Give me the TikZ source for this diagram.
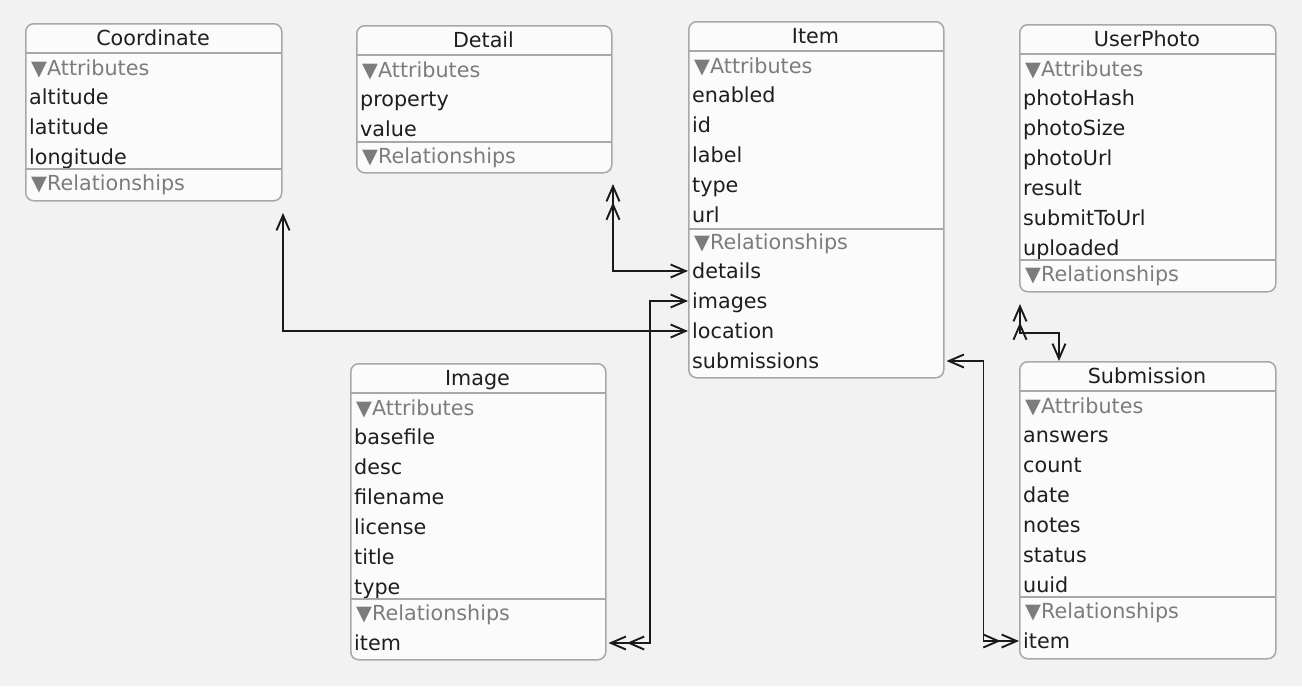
\documentclass[tikz,border=0pt]{standalone}
\usepackage{fontspec}
\setmainfont{DejaVu Sans}
\usetikzlibrary{arrows.meta,calc}
\definecolor{bg}{HTML}{F2F2F2}
\definecolor{boxfill}{HTML}{FBFBFB}
\definecolor{boxline}{HTML}{A8A8A8}
\definecolor{txt}{HTML}{1E1E1E}
\definecolor{hdrc}{HTML}{7C7C7C}
\definecolor{connc}{HTML}{1A1A1A}
\newcommand\efont{\fontsize{20.7}{24}\selectfont}
\newcommand\entbox[6]{%
  \node[ebox, minimum width={#4-#2}, minimum height={#5-#3}] (#1) at (#2,#3) {};
  \node[etitle] (#1-title) at ({(#2+#4)/2},{#3+22}) {#6};
  \draw[esep] (#2,{#3+30}) -- (#4,{#3+30});
}
\begin{document}
\begin{tikzpicture}[x=1pt,y=-1pt,
  ebox/.style={draw=boxline, line width=1.5pt, fill=boxfill, rounded corners=8pt, inner sep=0pt, anchor=north west},
  etitle/.style={font=\efont, text=txt, anchor=base, inner sep=0pt},
  esep/.style={draw=boxline, line width=1.5pt},
  erow/.style={font=\efont, text=txt, anchor=base west, inner xsep=4pt, inner ysep=0pt, text height=16pt, text depth=2pt, yshift=-2pt},
  ehdr/.style={erow, text=hdrc},
  conn/.style={draw=connc, line width=1.9pt},
  onetip/.tip={Straight Barb[length=15pt,width=13pt,line width=1.9pt]},
  manytip/.tip={Straight Barb[length=15pt,width=13pt,line width=1.9pt]Straight Barb[length=15pt,width=13pt,line width=1.9pt]}
]
\fill[bg] (0,0) rectangle (1302,686);
\useasboundingbox (0,0) rectangle (1302,686);

% Coordinate
\entbox{coord}{25}{23}{281}{200}{Coordinate}
\node[ehdr] (coord-attr) at (27,73) {▼Attributes};
\node[erow] (coord-altitude) at (25,102) {altitude};
\node[erow] (coord-latitude) at (25,132) {latitude};
\node[erow] (coord-longitude) at (25,162) {longitude};
\draw[esep] (25,169) -- (281,169);
\node[ehdr] (coord-rel) at (27,188) {▼Relationships};

% Detail
\entbox{detail}{356}{25}{611}{172}{Detail}
\node[ehdr] (detail-attr) at (358,75) {▼Attributes};
\node[erow] (detail-property) at (356,104) {property};
\node[erow] (detail-value) at (356,134) {value};
\draw[esep] (356,142) -- (611,142);
\node[ehdr] (detail-rel) at (358,161) {▼Relationships};

% Item
\entbox{item}{688}{21}{943}{377}{Item}
\node[ehdr] (item-attr) at (690,71) {▼Attributes};
\node[erow] (item-enabled) at (688,100) {enabled};
\node[erow] (item-id) at (688,130) {id};
\node[erow] (item-label) at (688,160) {label};
\node[erow] (item-type) at (688,190) {type};
\node[erow] (item-url) at (688,220) {url};
\draw[esep] (688,229) -- (943,229);
\node[ehdr] (item-rel) at (690,247) {▼Relationships};
\node[erow] (item-details) at (688,276) {details};
\node[erow] (item-images) at (688,306) {images};
\node[erow] (item-location) at (688,336) {location};
\node[erow] (item-submissions) at (688,366) {submissions};

% UserPhoto
\entbox{photo}{1019}{24}{1275}{291}{UserPhoto}
\node[ehdr] (photo-attr) at (1021,74) {▼Attributes};
\node[erow] (photo-hash) at (1019,103) {photoHash};
\node[erow] (photo-size) at (1019,133) {photoSize};
\node[erow] (photo-url) at (1019,163) {photoUrl};
\node[erow] (photo-result) at (1019,193) {result};
\node[erow] (photo-submit) at (1019,223) {submitToUrl};
\node[erow] (photo-uploaded) at (1019,253) {uploaded};
\draw[esep] (1019,260) -- (1275,260);
\node[ehdr] (photo-rel) at (1021,279) {▼Relationships};

% Image
\entbox{image}{350}{363}{605}{659}{Image}
\node[ehdr] (image-attr) at (352,413) {▼Attributes};
\node[erow] (image-basefile) at (350,442) {basefile};
\node[erow] (image-desc) at (350,472) {desc};
\node[erow] (image-filename) at (350,502) {filename};
\node[erow] (image-license) at (350,532) {license};
\node[erow] (image-title) at (350,562) {title};
\node[erow] (image-type) at (350,592) {type};
\draw[esep] (350,599) -- (605,599);
\node[ehdr] (image-rel) at (352,618) {▼Relationships};
\node[erow] (image-item) at (350,648) {item};

% Submission
\entbox{sub}{1019}{361}{1275}{658}{Submission}
\node[ehdr] (sub-attr) at (1021,411) {▼Attributes};
\node[erow] (sub-answers) at (1019,440) {answers};
\node[erow] (sub-count) at (1019,470) {count};
\node[erow] (sub-date) at (1019,500) {date};
\node[erow] (sub-notes) at (1019,530) {notes};
\node[erow] (sub-status) at (1019,560) {status};
\node[erow] (sub-uuid) at (1019,590) {uuid};
\draw[esep] (1019,597) -- (1275,597);
\node[ehdr] (sub-rel) at (1021,616) {▼Relationships};
\node[erow] (sub-item) at (1019,646) {item};

% Connectors
\coordinate (coord-end) at (283,213);
\draw[conn,{onetip}-{onetip}] (coord-end) |- (item-location.west);

\coordinate (detail-end) at (613,184);
\draw[conn,{manytip}-{onetip}] (detail-end) |- (item-details.west);

\draw[conn,{onetip}-{manytip}] (item-images.west) -- ++(-38,0) |- ([xshift=2pt]image.east |- image-item.west);

\draw[conn,{onetip}-{manytip}] ([xshift=2pt]item.east |- item-submissions.west) -- ++(37,0) |- (sub-item.west);

\coordinate (photo-end) at (1020,304);
\coordinate (photo-bend) at (1059,333);
\draw[conn,{manytip}-{onetip}] (photo-end) |- (photo-bend) -- (photo-bend |- sub.north);
\end{tikzpicture}
\end{document}
